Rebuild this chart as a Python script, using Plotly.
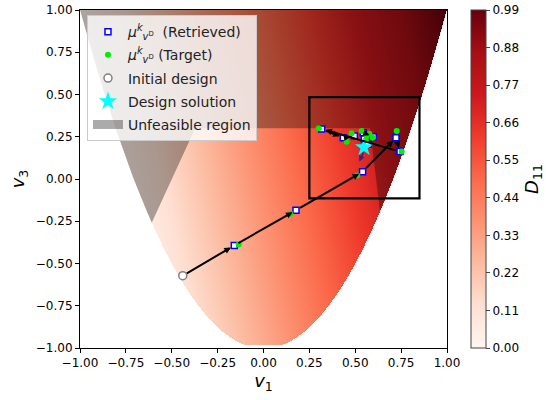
import numpy as np
import plotly.graph_objects as go

# ---------------- data ----------------
# D11 field (normalised), approximated as linear in lamination parameters
D11_BASE = 0.395
D11_V1 = 0.495
D11_V3 = 0.10
Z_MIN, Z_MAX = 0.0, 0.99
cbar_ticks = [0.00, 0.11, 0.22, 0.33, 0.44, 0.55, 0.66, 0.77, 0.88, 0.99]
axis_ticks = [-1.00, -0.75, -0.50, -0.25, 0.00, 0.25, 0.50, 0.75, 1.00]

init_v1 = [-0.44]
init_v3 = [-0.572]

ret_v1 = [-0.159, 0.177, 0.540, 0.722, 0.744, 0.317, 0.435, 0.495, 0.544, 0.598, 0.549, 0.571]
ret_v3 = [-0.393, -0.185, 0.043, 0.244, 0.162, 0.296, 0.244, 0.254, 0.274, 0.250, 0.237, 0.205]

tgt_v1 = [-0.135, 0.146, 0.511, 0.726, 0.753, 0.301, 0.453, 0.480, 0.535, 0.595, 0.558, 0.562, 0.577]
tgt_v3 = [-0.387, -0.205, 0.020, 0.284, 0.162, 0.300, 0.221, 0.270, 0.284, 0.244, 0.231, 0.256, 0.268]

sol_v1 = [0.548]
sol_v3 = [0.188]

# small purple arrow below the solution
purple_v1 = [0.548, 0.522]
purple_v3 = [0.165, 0.103]

# unfeasible region outline pieces
left_wedge_v1 = [-0.609, -0.372]
left_wedge_v3 = [-0.258, 0.30]
right_wedge_v1 = [0.58, 0.635]
right_wedge_v3 = [0.30, -0.195]

box_v1 = [0.25, 0.85]
box_v3 = [-0.115, 0.485]

REDS = [[0.0, '#fff5f0'], [0.125, '#fee0d2'], [0.25, '#fcbba1'], [0.375, '#fc9272'],
        [0.5, '#fb6a4a'], [0.625, '#ef3b2c'], [0.75, '#cb181d'], [0.875, '#a50f15'],
        [1.0, '#67000d']]

FONT = "DejaVu Sans"
MU = '<i>μ</i><sup><i>k</i></sup><sub><i>v</i><sup>D</sup></sub>'

# ---------------- field ----------------
g1 = np.linspace(-1, 1, 367)
g3 = np.linspace(-1, 1, 339)
V1, V3 = np.meshgrid(g1, g3)
Z = D11_BASE + D11_V1 * V1 + D11_V3 * V3
Z[V3 < 2 * V1 ** 2 - 1] = np.nan
Z[V3 < -0.98] = np.nan

fig = go.Figure()
fig.add_trace(go.Heatmap(
    x=g1, y=g3, z=Z, zmin=Z_MIN, zmax=Z_MAX, colorscale=REDS, showscale=True,
    hoverinfo='skip', showlegend=False,
    colorbar=dict(x=1.065, xanchor='left', xpad=0, y=0.5, yanchor='middle', ypad=0,
                  len=1, lenmode='fraction', thickness=15, thicknessmode='pixels',
                  outlinecolor='#444', outlinewidth=1,
                  tickvals=cbar_ticks, ticktext=[f"{t:.2f}" for t in cbar_ticks],
                  ticks='outside', ticklen=4, tickcolor='#444',
                  tickfont=dict(family=FONT, size=12, color='black'),
                  title=dict(text='<i>D</i><sub>11</sub>', side='right',
                             font=dict(family=FONT, size=18, color='black')))
))

# unfeasible region polygon
lp = np.linspace(-1, left_wedge_v1[0], 60)
rp = np.linspace(right_wedge_v1[1], 1, 60)
poly_v1 = list(lp) + [left_wedge_v1[1], right_wedge_v1[0]] + list(rp)
poly_v3 = list(2 * lp ** 2 - 1) + [left_wedge_v3[1], right_wedge_v3[0]] + list(2 * rp ** 2 - 1)
fig.add_trace(go.Scatter(
    x=poly_v1, y=poly_v3, mode='lines', fill='toself', fillcolor='rgba(0,0,0,0.33)',
    line=dict(width=0, color='rgba(0,0,0,0)'), showlegend=False, hoverinfo='skip'))

# path arrows
path_v1 = init_v1 + ret_v1 + sol_v1
path_v3 = init_v3 + ret_v3 + sol_v3
for i in range(len(path_v1) - 1):
    fig.add_annotation(x=path_v1[i + 1], y=path_v3[i + 1], ax=path_v1[i], ay=path_v3[i],
                       xref='x', yref='y', axref='x', ayref='y', text='', showarrow=True,
                       arrowhead=2, arrowsize=0.65, arrowwidth=2, arrowcolor='black',
                       standoff=4, startstandoff=3)

fig.add_annotation(x=purple_v1[1], y=purple_v3[1], ax=purple_v1[0], ay=purple_v3[0],
                   xref='x', yref='y', axref='x', ayref='y', text='', showarrow=True,
                   arrowhead=2, arrowsize=0.8, arrowwidth=1.5, arrowcolor='#3b1f8c')

fig.add_trace(go.Scatter(
    x=ret_v1, y=ret_v3, mode='markers', name=MU + '  (Retrieved)',
    marker=dict(symbol='square', size=6, color='white', line=dict(color='blue', width=1.5)),
    legendrank=1, legendgroup='g1'))
fig.add_trace(go.Scatter(
    x=tgt_v1, y=tgt_v3, mode='markers', name=MU + ' (Target)',
    marker=dict(symbol='circle', size=6, color='#00ee00', line=dict(width=0)),
    legendrank=2, legendgroup='g2'))
fig.add_trace(go.Scatter(
    x=init_v1, y=init_v3, mode='markers', name='Initial design',
    marker=dict(symbol='circle', size=8, color='white', line=dict(color='gray', width=1.5)),
    legendrank=3, legendgroup='g3'))
fig.add_trace(go.Scatter(
    x=sol_v1, y=sol_v3, mode='markers', name='Design solution',
    marker=dict(symbol='star', size=14, color='cyan', line=dict(width=0)),
    legendrank=4, legendgroup='g4'))
# legend patch for the unfeasible region
fig.add_trace(go.Scatter(
    x=[None], y=[None], mode='lines', name='Unfeasible region',
    line=dict(width=9, color='rgba(0,0,0,0.33)'), legendrank=5, legendgroup='g5'))

fig.add_shape(type='rect', x0=box_v1[0], x1=box_v1[1], y0=box_v3[0], y1=box_v3[1],
              xref='x', yref='y', line=dict(color='black', width=2.2))

axis_common = dict(range=[-1, 1], tickvals=axis_ticks, ticktext=[f"{t:.2f}".replace('-', '−') for t in axis_ticks],
                   showgrid=False, zeroline=False, showline=True, linecolor='black', linewidth=1,
                   mirror=True, ticks='outside', ticklen=4, tickcolor='black', automargin=False,
                   tickfont=dict(family=FONT, size=12, color='black'))
fig.update_xaxes(**axis_common, title=dict(text='<i>v</i><sub>1</sub>', standoff=2,
                                           font=dict(family=FONT, size=18, color='black')))
fig.update_yaxes(**axis_common, title=dict(text='<i>v</i><sub>3</sub>', standoff=6,
                                           font=dict(family=FONT, size=18, color='black')))

fig.update_layout(
    width=546, height=400, margin=dict(l=80, r=99, t=10, b=52, autoexpand=False),
    paper_bgcolor='white', plot_bgcolor='white',
    font=dict(family=FONT, color='black'),
    legend=dict(x=0.019, y=0.985, xanchor='left', yanchor='top',
                bgcolor='rgba(255,255,255,0.8)', bordercolor='#cccccc', borderwidth=1,
                font=dict(family=FONT, size=14, color='#222'), tracegroupgap=2,
                itemwidth=30),
)

fig.write_html("out.html", config={'displayModeBar': False},
               post_script="document.body.style.margin='0';document.body.style.overflow='hidden';")
